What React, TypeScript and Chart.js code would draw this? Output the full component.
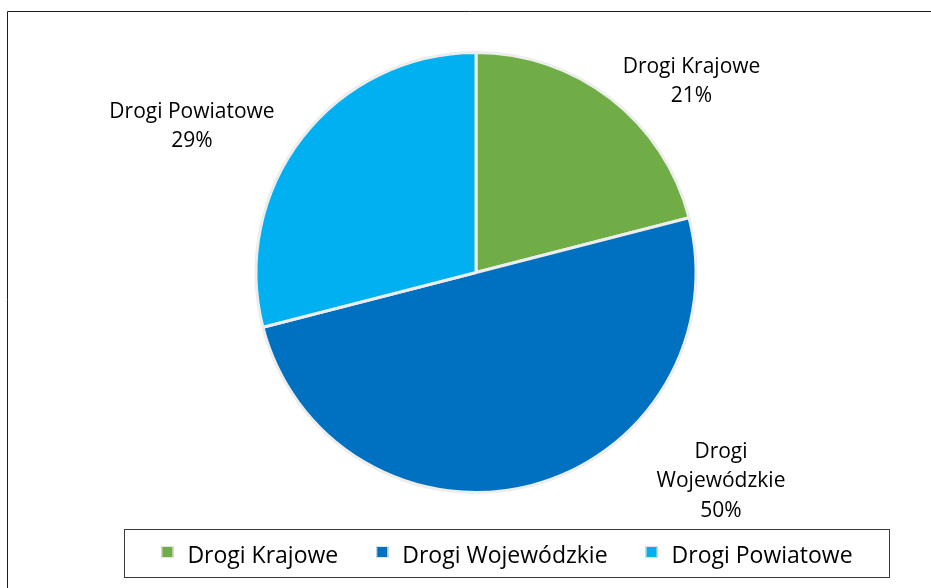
import React, { useEffect, useRef } from "react";
import { Chart, registerables } from "chart.js";

Chart.register(...registerables);

const categories = ["Drogi Krajowe", "Drogi Wojewódzkie", "Drogi Powiatowe"];
const shares = [21, 50, 29];
const sliceColors = ["#70AD47", "#0070C0", "#00B0F0"];

// label layout (offsets from the pie centre, in px) – kept apart from the data
const labelLayout = [
  { dx: 215.5, dy: -200, wrap: false },
  { dx: 245, dy: 185, wrap: true },
  { dx: -284, dy: -155, wrap: false },
];

const FONT = '"Open Sans", "Noto Sans", sans-serif';

const decorPlugin = {
  id: "decor",
  afterDraw(chart: any) {
    const ctx = chart.ctx as CanvasRenderingContext2D;
    const meta = chart.getDatasetMeta(0);
    const ds = chart.data.datasets[0];
    const values = ds.data as number[];
    const total = values.reduce((a: number, b: number) => a + b, 0);
    const labels = chart.data.labels as string[];
    ctx.save();

    // outer frame
    ctx.strokeStyle = "#1e1e1e";
    ctx.lineWidth = 1;
    ctx.beginPath();
    ctx.moveTo(7.5, 588);
    ctx.lineTo(7.5, 11.5);
    ctx.lineTo(931, 11.5);
    ctx.stroke();

    // data labels
    const arc0 = meta.data[0];
    const cx = arc0.x;
    const cy = arc0.y;
    ctx.fillStyle = "#000";
    ctx.font = `21px ${FONT}`;
    ctx.textAlign = "center";
    ctx.textBaseline = "alphabetic";
    labels.forEach((lab, i) => {
      const lay = labelLayout[i];
      const pct = Math.round((values[i] / total) * 100) + "%";
      const lines = lay.wrap ? [...lab.split(" "), pct] : [lab, pct];
      lines.forEach((ln, j) => {
        ctx.fillText(ln, cx + lay.dx, cy + lay.dy + j * 29.5);
      });
    });

    // legend box
    const box = { l: 124.5, t: 529.5, r: 889.5, b: 577.5 };
    ctx.strokeStyle = "#3a3a3a";
    ctx.lineWidth = 1;
    ctx.strokeRect(box.l, box.t, box.r - box.l, box.b - box.t);

    ctx.font = `23px ${FONT}`;
    ctx.textAlign = "left";
    const sq = 12;
    const gapSqText = 14;
    const gapItems = 38;
    const widths = labels.map((l) => sq + gapSqText + ctx.measureText(l).width);
    const totalW = widths.reduce((a, b) => a + b, 0) + gapItems * (labels.length - 1);
    let x = (box.l + box.r) / 2 - totalW / 2;
    const baseY = 563;
    labels.forEach((l, i) => {
      const colors = ds.backgroundColor as string[];
      ctx.fillStyle = colors[i];
      ctx.fillRect(x, 546, sq, sq);
      ctx.strokeStyle = "#e6e6e6";
      ctx.strokeRect(x + 0.5, 546.5, sq - 1, sq - 1);
      ctx.fillStyle = "#000";
      ctx.fillText(l, x + sq + gapSqText, baseY);
      x += widths[i] + gapItems;
    });

    ctx.restore();
  },
};

export default function App() {
  const ref = useRef<HTMLCanvasElement | null>(null);
  useEffect(() => {
    if (!ref.current) return;
    const chart = new Chart(ref.current, {
      type: "pie",
      data: {
        labels: categories,
        datasets: [
          {
            data: shares,
            backgroundColor: sliceColors,
            borderColor: "#EDEDED",
            borderWidth: 3,
          },
        ],
      },
      options: {
        responsive: false,
        animation: false,
        layout: { padding: { top: 51, bottom: 94, left: 21, right: 0 } },
        plugins: {
          legend: { display: false },
          tooltip: { enabled: false },
          title: { display: false },
        },
      },
      plugins: [decorPlugin],
    });
    return () => chart.destroy();
  }, []);
  return (
    <div style={{ position: "absolute", left: 0, top: 0, width: 931, height: 588, background: "#fff" }}>
      <canvas ref={ref} width={931} height={588} style={{ display: "block" }} />
    </div>
  );
}
